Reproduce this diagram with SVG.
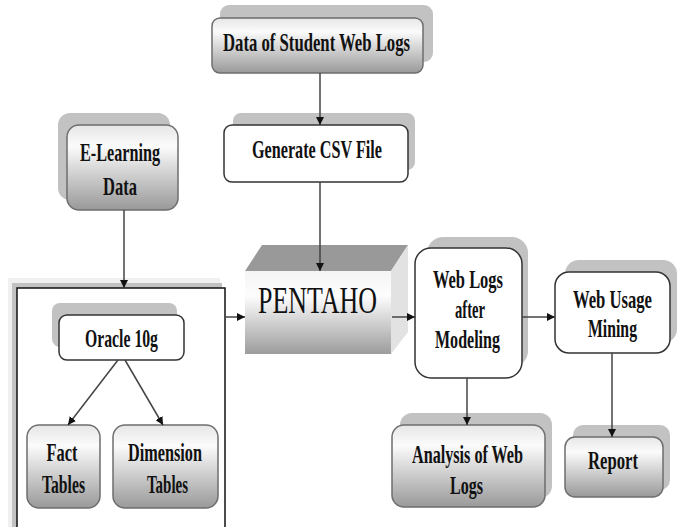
<svg xmlns="http://www.w3.org/2000/svg" width="683" height="527" viewBox="0 0 683 527">
<defs>
<linearGradient id="g" x1="0" y1="0" x2="0" y2="1">
<stop offset="0" stop-color="#e6e6e6"/>
<stop offset="0.25" stop-color="#fbfbfb"/>
<stop offset="1" stop-color="#999"/>
</linearGradient>
<linearGradient id="pf" x1="0" y1="0" x2="0" y2="1">
<stop offset="0" stop-color="#f4f4f4"/>
<stop offset="0.3" stop-color="#fdfdfd"/>
<stop offset="1" stop-color="#9c9c9c"/>
</linearGradient>
<marker id="ah" viewBox="0 0 10 10" refX="10" refY="5" markerWidth="8" markerHeight="8" markerUnits="userSpaceOnUse" orient="auto">
<path d="M0,0 L10,5 L0,10 z" fill="#111"/>
</marker>
</defs>
<style>
.sh{fill:#c2c2c2;}
.gb{fill:url(#g);stroke:#6e6e6e;stroke-width:1.5;}
.wb{fill:#fff;stroke:#333;stroke-width:1.5;}
.t{font-family:"Liberation Serif","Times New Roman",serif;font-weight:bold;font-size:25px;fill:#111;text-anchor:middle;}
.c{fill:none;stroke:#444;stroke-width:1.5;}
</style>
<rect width="683" height="527" fill="#fff"/>

<g id="data-student-web-logs">
<rect class="sh" x="220" y="5" width="213" height="57" rx="9"/>
<rect class="gb" x="212" y="18" width="211" height="55" rx="8"/>
<text class="t" x="316.5" y="51" textLength="187" lengthAdjust="spacingAndGlyphs">Data of Student Web Logs</text>
</g>

<g id="generate-csv">
<rect class="sh" x="233" y="113" width="182" height="57" rx="8"/>
<rect class="wb" x="224" y="125" width="184" height="57" rx="8"/>
<text class="t" x="317" y="158" textLength="130" lengthAdjust="spacingAndGlyphs">Generate CSV File</text>
</g>

<g id="e-learning-data">
<rect class="sh" x="58" y="113" width="112" height="87" rx="12"/>
<rect class="gb" x="67" y="125" width="111" height="85" rx="12"/>
<text class="t" x="120" y="161" textLength="80" lengthAdjust="spacingAndGlyphs">E-Learning</text>
<text class="t" x="120" y="195" textLength="34" lengthAdjust="spacingAndGlyphs">Data</text>
</g>

<g id="oracle-container">
<rect x="8" y="278" width="212" height="252" fill="#f0f0f0"/>
<rect x="12" y="283" width="210" height="247" fill="#c2c2c2"/>
<rect x="17" y="288" width="208" height="245" fill="#fff" stroke="#111" stroke-width="1.5"/>
</g>

<g id="oracle-10g">
<rect class="sh" x="52" y="303" width="125" height="44" rx="8"/>
<rect class="wb" x="59" y="315" width="125" height="45" rx="8"/>
<text class="t" x="121.5" y="347" textLength="73" lengthAdjust="spacingAndGlyphs">Oracle 10g</text>
</g>

<g id="fact-tables">
<rect class="gb" x="27" y="425" width="73" height="83" rx="12"/>
<text class="t" x="62" y="461" textLength="31" lengthAdjust="spacingAndGlyphs">Fact</text>
<text class="t" x="63.5" y="493" textLength="43" lengthAdjust="spacingAndGlyphs">Tables</text>
</g>

<g id="dimension-tables">
<rect class="gb" x="113" y="425" width="105" height="83" rx="12"/>
<text class="t" x="165" y="461" textLength="74" lengthAdjust="spacingAndGlyphs">Dimension</text>
<text class="t" x="167.5" y="493" textLength="41" lengthAdjust="spacingAndGlyphs">Tables</text>
</g>

<g id="pentaho">
<polygon points="245,271 262,245 408,245 391,271" fill="#999"/>
<polygon points="391,271 408,245 408,332 391,354" fill="#e2e2e2"/>
<rect x="245" y="271" width="146" height="83" fill="url(#pf)"/>
<text x="317.5" y="313" font-family="&quot;Liberation Serif&quot;,&quot;Times New Roman&quot;,serif" font-size="38" fill="#111" text-anchor="middle" textLength="119" lengthAdjust="spacingAndGlyphs">PENTAHO</text>
</g>

<g id="web-logs-after-modeling">
<rect class="sh" x="427" y="237" width="101" height="130" rx="16"/>
<rect class="wb" x="415" y="248" width="107" height="130" rx="16"/>
<text class="t" x="468" y="288" textLength="70" lengthAdjust="spacingAndGlyphs">Web Logs</text>
<text class="t" x="470" y="318" textLength="30" lengthAdjust="spacingAndGlyphs">after</text>
<text class="t" x="467.5" y="348" textLength="65" lengthAdjust="spacingAndGlyphs">Modeling</text>
</g>

<g id="web-usage-mining">
<rect class="sh" x="565" y="260" width="112" height="83" rx="14"/>
<rect class="wb" x="555" y="272" width="115" height="81" rx="14"/>
<text class="t" x="612.5" y="308" textLength="79" lengthAdjust="spacingAndGlyphs">Web Usage</text>
<text class="t" x="612.5" y="337" textLength="49" lengthAdjust="spacingAndGlyphs">Mining</text>
</g>

<g id="analysis-web-logs">
<rect class="sh" x="400" y="413" width="152" height="85" rx="12"/>
<rect class="gb" x="392" y="425" width="153" height="82" rx="12"/>
<text class="t" x="467.5" y="463" textLength="111" lengthAdjust="spacingAndGlyphs">Analysis of Web</text>
<text class="t" x="466.5" y="494" textLength="33" lengthAdjust="spacingAndGlyphs">Logs</text>
</g>

<g id="report">
<rect class="sh" x="573" y="425" width="97" height="65" rx="10"/>
<rect class="gb" x="565" y="437" width="98" height="60" rx="10"/>
<text class="t" x="613" y="469" textLength="50" lengthAdjust="spacingAndGlyphs">Report</text>
</g>

<g id="connectors">
<line class="c" x1="320" y1="73" x2="320" y2="125" marker-end="url(#ah)"/>
<line class="c" x1="320" y1="182" x2="320" y2="271" marker-end="url(#ah)"/>
<line class="c" x1="124" y1="210" x2="124" y2="288" marker-end="url(#ah)"/>
<line class="c" x1="225" y1="317" x2="245" y2="317" marker-end="url(#ah)"/>
<line class="c" x1="392" y1="317" x2="415" y2="317" marker-end="url(#ah)"/>
<line class="c" x1="522" y1="317" x2="555" y2="317" marker-end="url(#ah)"/>
<line class="c" x1="467" y1="378" x2="467" y2="425" marker-end="url(#ah)"/>
<line class="c" x1="612" y1="353" x2="612" y2="437" marker-end="url(#ah)"/>
<line class="c" x1="118" y1="360" x2="68" y2="425" marker-end="url(#ah)"/>
<line class="c" x1="125" y1="360" x2="163" y2="425" marker-end="url(#ah)"/>
</g>
</svg>
